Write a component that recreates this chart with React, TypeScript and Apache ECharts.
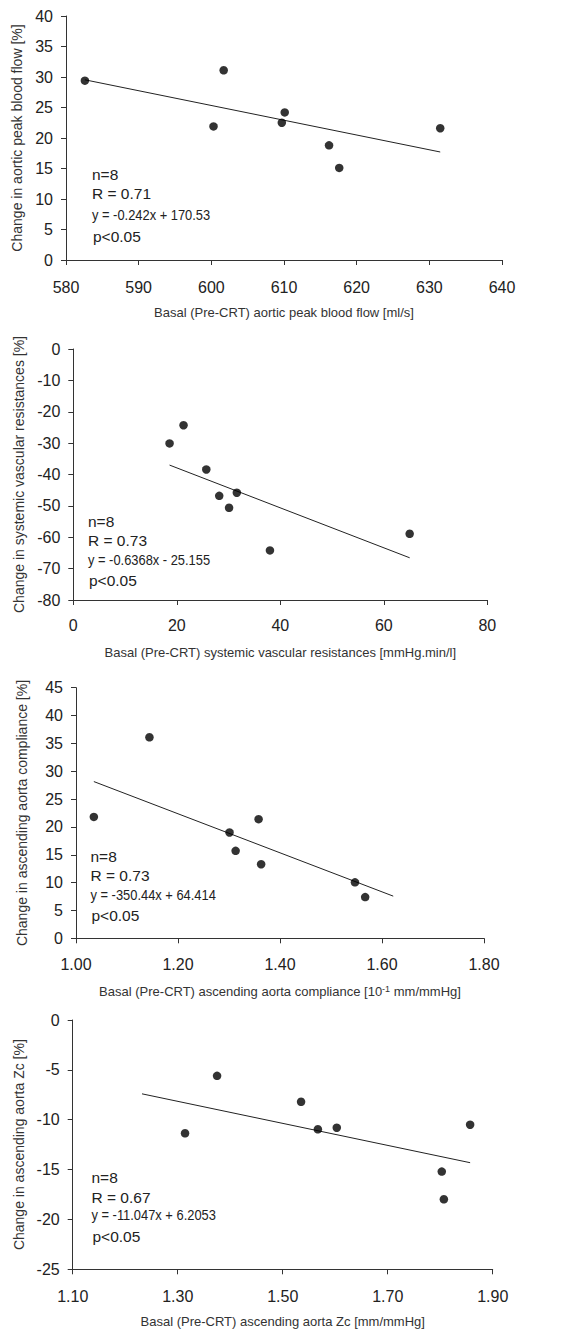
import React, { useEffect, useRef } from "react";
import * as echarts from "echarts";

// Panel 1: aortic peak blood flow
const flowX = [582.6, 601.7, 600.3, 610.1, 609.7, 616.2, 617.6, 631.5];
const flowY = [29.4, 31.1, 21.9, 24.2, 22.5, 18.8, 15.1, 21.6];
const flowTrendX = [582.6, 631.5];

// Panel 2: systemic vascular resistances
const svrX = [18.6, 21.3, 25.7, 28.2, 31.6, 30.1, 38.0, 65.0];
const svrY = [-30.1, -24.3, -38.4, -46.8, -45.8, -50.6, -64.2, -58.9];
const svrTrendX = [18.6, 65.0];

// Panel 3: ascending aorta compliance
const compX = [1.035, 1.144, 1.301, 1.313, 1.358, 1.363, 1.547, 1.567];
const compY = [21.8, 36.1, 19.0, 15.7, 21.4, 13.3, 10.05, 7.4];
const compTrendX = [1.035, 1.622];

// Panel 4: ascending aorta Zc
const zcX = [1.314, 1.375, 1.535, 1.567, 1.603, 1.857, 1.803, 1.807];
const zcY = [-11.36, -5.6, -8.2, -10.96, -10.8, -10.5, -15.2, -17.98];
const zcTrendX = [1.232, 1.857];

// Regression equations (slope, intercept, x unit factor used in the printed equation)
const flowFit = { slope: -0.242, intercept: 170.53, xFactor: 1 };
const svrFit = { slope: -0.6368, intercept: -25.155, xFactor: 1 };
const compFit = { slope: -350.44, intercept: 64.414, xFactor: 0.1 };
const zcFit = { slope: -11.047, intercept: 6.2053, xFactor: 1 };

const annotations = [
  ["n=8", "R = 0.71", "y = -0.242x + 170.53", "p<0.05"],
  ["n=8", "R = 0.73", "y = -0.6368x - 25.155", "p<0.05"],
  ["n=8", "R = 0.73", "y = -350.44x + 64.414", "p<0.05"],
  ["n=8", "R = 0.67", "y = -11.047x + 6.2053", "p<0.05"],
];

const FONT = "'Liberation Sans', Arial, sans-serif";
const TXT = "#222";
const AX = "#333";

function pairs(xs: number[], ys: number[]) {
  return xs.map((x, i) => [x, ys[i]]);
}
function trend(xs: number[], fit: { slope: number; intercept: number; xFactor: number }) {
  return xs.map((x) => [x, fit.slope * x * fit.xFactor + fit.intercept]);
}

export default function App() {
  const ref = useRef<HTMLDivElement>(null);
  useEffect(() => {
    document.body.style.margin = "0";
    if (!ref.current) return;
    const chart = echarts.init(ref.current, null, { renderer: "svg" });

    const grids = [
      { left: 66, top: 16, width: 436, height: 244 },
      { left: 73.3, top: 349, width: 414, height: 251 },
      { left: 76, top: 687.7, width: 408, height: 250.6 },
      { left: 72.7, top: 1020, width: 420, height: 249.3 },
    ];

    const xCfg = [
      { min: 580, max: 640, interval: 10, name: "Basal (Pre-CRT) aortic peak blood flow [ml/s]", dec: 0, margin: 19 },
      { min: 0, max: 80, interval: 20, name: "Basal (Pre-CRT) systemic vascular resistances [mmHg.min/l]", dec: 0, margin: 17 },
      { min: 1.0, max: 1.8, interval: 0.2, name: "{a|Basal (Pre-CRT) ascending aorta compliance [10}{s|-1}{a| mm/mmHg]}", dec: 2, margin: 18 },
      { min: 1.1, max: 1.9, interval: 0.2, name: "Basal (Pre-CRT) ascending aorta Zc [mm/mmHg]", dec: 2, margin: 19 },
    ];
    const yCfg = [
      { min: 0, max: 40, interval: 5, name: "Change in aortic peak blood flow [%]", gap: 37 },
      { min: -80, max: 0, interval: 10, name: "Change in systemic vascular resistances [%]", gap: 44 },
      { min: 0, max: 45, interval: 5, name: "Change in ascending aorta compliance [%]", gap: 47 },
      { min: -25, max: 0, interval: 5, name: "Change in ascending aorta Zc [%]", gap: 43.5 },
    ];

    const axisLine = { show: true, onZero: false, lineStyle: { color: AX, width: 1 } };
    const axisTick = { show: true, inside: false, length: 5, lineStyle: { color: AX, width: 1 } };

    const xAxis = xCfg.map((c, i) => ({
      type: "value",
      gridIndex: i,
      min: c.min,
      max: c.max,
      interval: c.interval,
      axisLine,
      axisTick,
      splitLine: { show: false },
      axisLabel: {
        color: TXT,
        fontSize: 16,
        fontFamily: FONT,
        margin: c.margin,
        formatter: (v: number) => (c.dec ? v.toFixed(c.dec) : String(Math.round(v))),
      },
      name: c.name,
      nameLocation: "middle",
      nameGap: 46,
      nameTextStyle: {
        color: AX,
        fontSize: 13,
        fontFamily: FONT,
        rich: {
          a: { color: AX, fontSize: 13, fontFamily: FONT },
          s: { color: AX, fontSize: 9, fontFamily: FONT, verticalAlign: "top", padding: [0, 0, 6, 0] },
        },
      },
    }));

    const yAxis = yCfg.map((c, i) => ({
      type: "value",
      gridIndex: i,
      min: c.min,
      max: c.max,
      interval: c.interval,
      axisLine,
      axisTick,
      splitLine: { show: false },
      axisLabel: { color: TXT, fontSize: 16, fontFamily: FONT, margin: 13 },
      name: c.name,
      nameLocation: "middle",
      nameGap: c.gap,
      nameTextStyle: { color: AX, fontSize: 14, fontFamily: FONT },
    }));

    const sets = [
      { d: pairs(flowX, flowY), t: trend(flowTrendX, flowFit) },
      { d: pairs(svrX, svrY), t: trend(svrTrendX, svrFit) },
      { d: pairs(compX, compY), t: trend(compTrendX, compFit) },
      { d: pairs(zcX, zcY), t: trend(zcTrendX, zcFit) },
    ];

    const series: any[] = [];
    sets.forEach((s, i) => {
      series.push({
        type: "line",
        xAxisIndex: i,
        yAxisIndex: i,
        data: s.t,
        showSymbol: false,
        symbol: "none",
        lineStyle: { color: "#222", width: 1 },
        silent: true,
        z: 2,
      });
      series.push({
        type: "scatter",
        xAxisIndex: i,
        yAxisIndex: i,
        data: s.d,
        symbol: "circle",
        symbolSize: 8.5,
        itemStyle: { color: "#000" },
        z: 3,
      });
    });

    const annoPos = [
      { x: 92, ys: [174, 193.5, 214.5, 236.5] },
      { x: 88, ys: [521, 540, 560, 580] },
      { x: 90.5, ys: [856, 875, 895, 915] },
      { x: 91.5, ys: [1177.5, 1197, 1214.5, 1236] },
    ];
    const graphic: any[] = [];
    annotations.forEach((lines, i) => {
      lines.forEach((t, j) => {
        const isEq = j === 2;
        graphic.push({
          type: "text",
          x: annoPos[i].x + (j === 3 ? 1 : 0),
          y: annoPos[i].ys[j],
          scaleX: isEq ? 0.86 : 1,
          style: {
            text: t,
            fill: TXT,
            fontSize: isEq ? 15 : 15.5,
            fontFamily: FONT,
            verticalAlign: "middle",
            align: "left",
          },
        });
      });
    });

    chart.setOption({
      animation: false,
      backgroundColor: "#fff",
      grid: grids,
      xAxis,
      yAxis,
      series,
      graphic,
    });
    return () => chart.dispose();
  }, []);
  return <div ref={ref} style={{ width: 583, height: 1334 }} />;
}
